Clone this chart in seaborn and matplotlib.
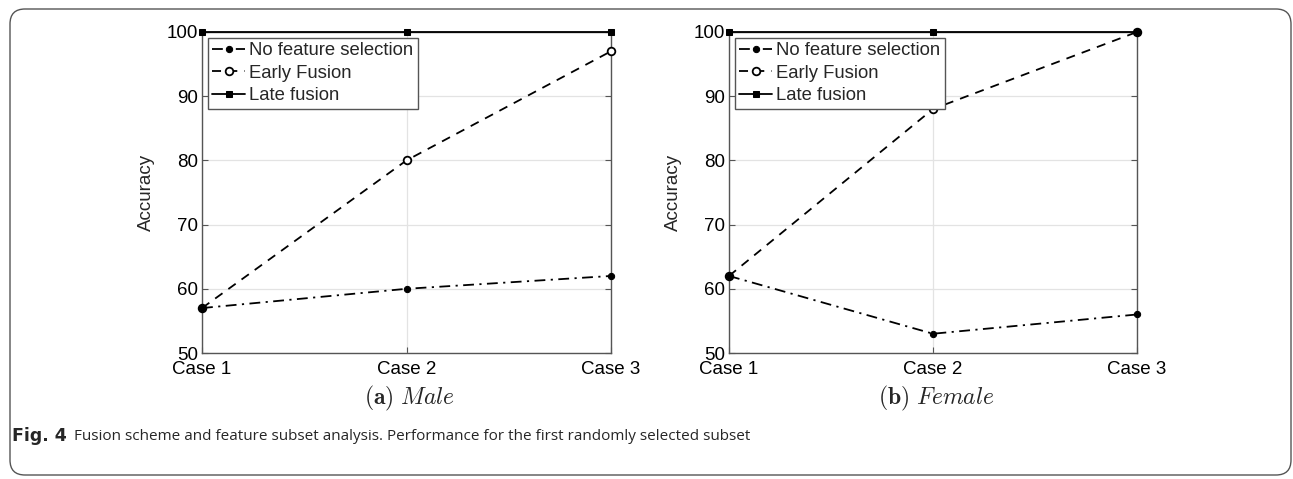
import matplotlib
matplotlib.use("Agg")
import matplotlib.pyplot as plt
from matplotlib.patches import FancyBboxPatch
import seaborn as sns
import pandas as pd

cases = ["Case 1", "Case 2", "Case 3"]
series_names = ["No feature selection", "Early Fusion", "Late fusion"]
male_no_fs = [57, 60, 62]
male_early = [57, 80, 97]
male_late = [100, 100, 100]
female_no_fs = [62, 53, 56]
female_early = [62, 88, 100]
female_late = [100, 100, 100]
yticks = [50, 60, 70, 80, 90, 100]
subcaptions = [r"$\mathbf{(a)}$ $\mathit{Male}$", r"$\mathbf{(b)}$ $\mathit{Female}$"]

sns.set_theme(style="whitegrid")
plt.rcParams['font.family'] = ['Liberation Sans', 'DejaVu Sans']
plt.rcParams['mathtext.fontset'] = 'cm'

fig = plt.figure(figsize=(12.93, 4.79), dpi=100)
W, H = 1293, 479
axes = [fig.add_axes([202 / W, 1 - 353 / H, 409 / W, 321 / H]),
        fig.add_axes([729 / W, 1 - 353 / H, 408 / W, 321 / H])]

styles = [
    dict(linestyle=(0, (6, 3, 1.2, 3)), marker="o", markersize=4.5, markerfacecolor="black", zorder=5),
    dict(linestyle=(0, (5, 4)), marker="o", markersize=5.5, markerfacecolor="white", markeredgewidth=1.3, zorder=3),
    dict(linestyle="-", marker="s", markersize=4, markerfacecolor="black", zorder=4),
]

datasets = [[male_no_fs, male_early, male_late], [female_no_fs, female_early, female_late]]
xpos = list(range(len(cases)))

for ax, data, cap in zip(axes, datasets, subcaptions):
    for name, vals, st in zip(series_names, data, styles):
        df = pd.DataFrame({"case": xpos, "acc": vals})
        sns.lineplot(data=df, x="case", y="acc", ax=ax, color="black", linewidth=1.3,
                     label=name, clip_on=False, markeredgecolor="black", **st)
    ax.set_xlim(0, len(cases) - 1)
    ax.set_ylim(50, 100)
    ax.set_xticks(xpos)
    ax.set_xticklabels(cases, fontsize=13.5)
    ax.set_yticks(yticks)
    ax.set_yticklabels([str(v) for v in yticks], fontsize=13.5)
    ax.set_xlabel("")
    ax.set_ylabel("Accuracy", fontsize=13.5, labelpad=8)
    ax.grid(True, color="#e3e3e3", linewidth=0.9)
    for s in ax.spines.values():
        s.set_color("#555555")
        s.set_linewidth(1.0)
        s.set_visible(True)
    ax.tick_params(axis="both", direction="in", length=4, width=0.8, color="#555555",
                   pad=3, labelcolor="black", left=True, bottom=True, top=False, right=True)
    ax.tick_params(axis="x", pad=6)
    ax.tick_params(axis="y", labelright=False)
    leg = ax.legend(loc="upper left", fontsize=13.3, frameon=True, fancybox=False,
                    edgecolor="#555555", framealpha=1, borderpad=0.25, labelspacing=0.3,
                    handlelength=1.8, handletextpad=0.2, borderaxespad=0.3)
    leg.set_zorder(10)
    leg.get_frame().set_linewidth(1.0)
    x0 = ax.get_position().x0 + ax.get_position().width / 2
    fig.text(x0 + 3 / W, 1 - 398 / H, cap, ha="center", va="center", fontsize=17)

fig.text(12 / W, 1 - 436 / H, "Fig. 4", fontsize=12.5, fontweight="bold", ha="left", va="center",
         family=['DejaVu Sans'])
fig.text(74 / W, 1 - 436 / H, "Fusion scheme and feature subset analysis. Performance for the first randomly selected subset",
         fontsize=11, ha="left", va="center", family=['Open Sans', 'DejaVu Sans'])

frame = FancyBboxPatch((0.10, 0.04), 12.81, 4.66, boxstyle="round,pad=0,rounding_size=0.15",
                       transform=fig.dpi_scale_trans, fill=False, edgecolor="#555555", linewidth=1.0)
fig.patches.append(frame)

fig.savefig("out.png", dpi=100)
